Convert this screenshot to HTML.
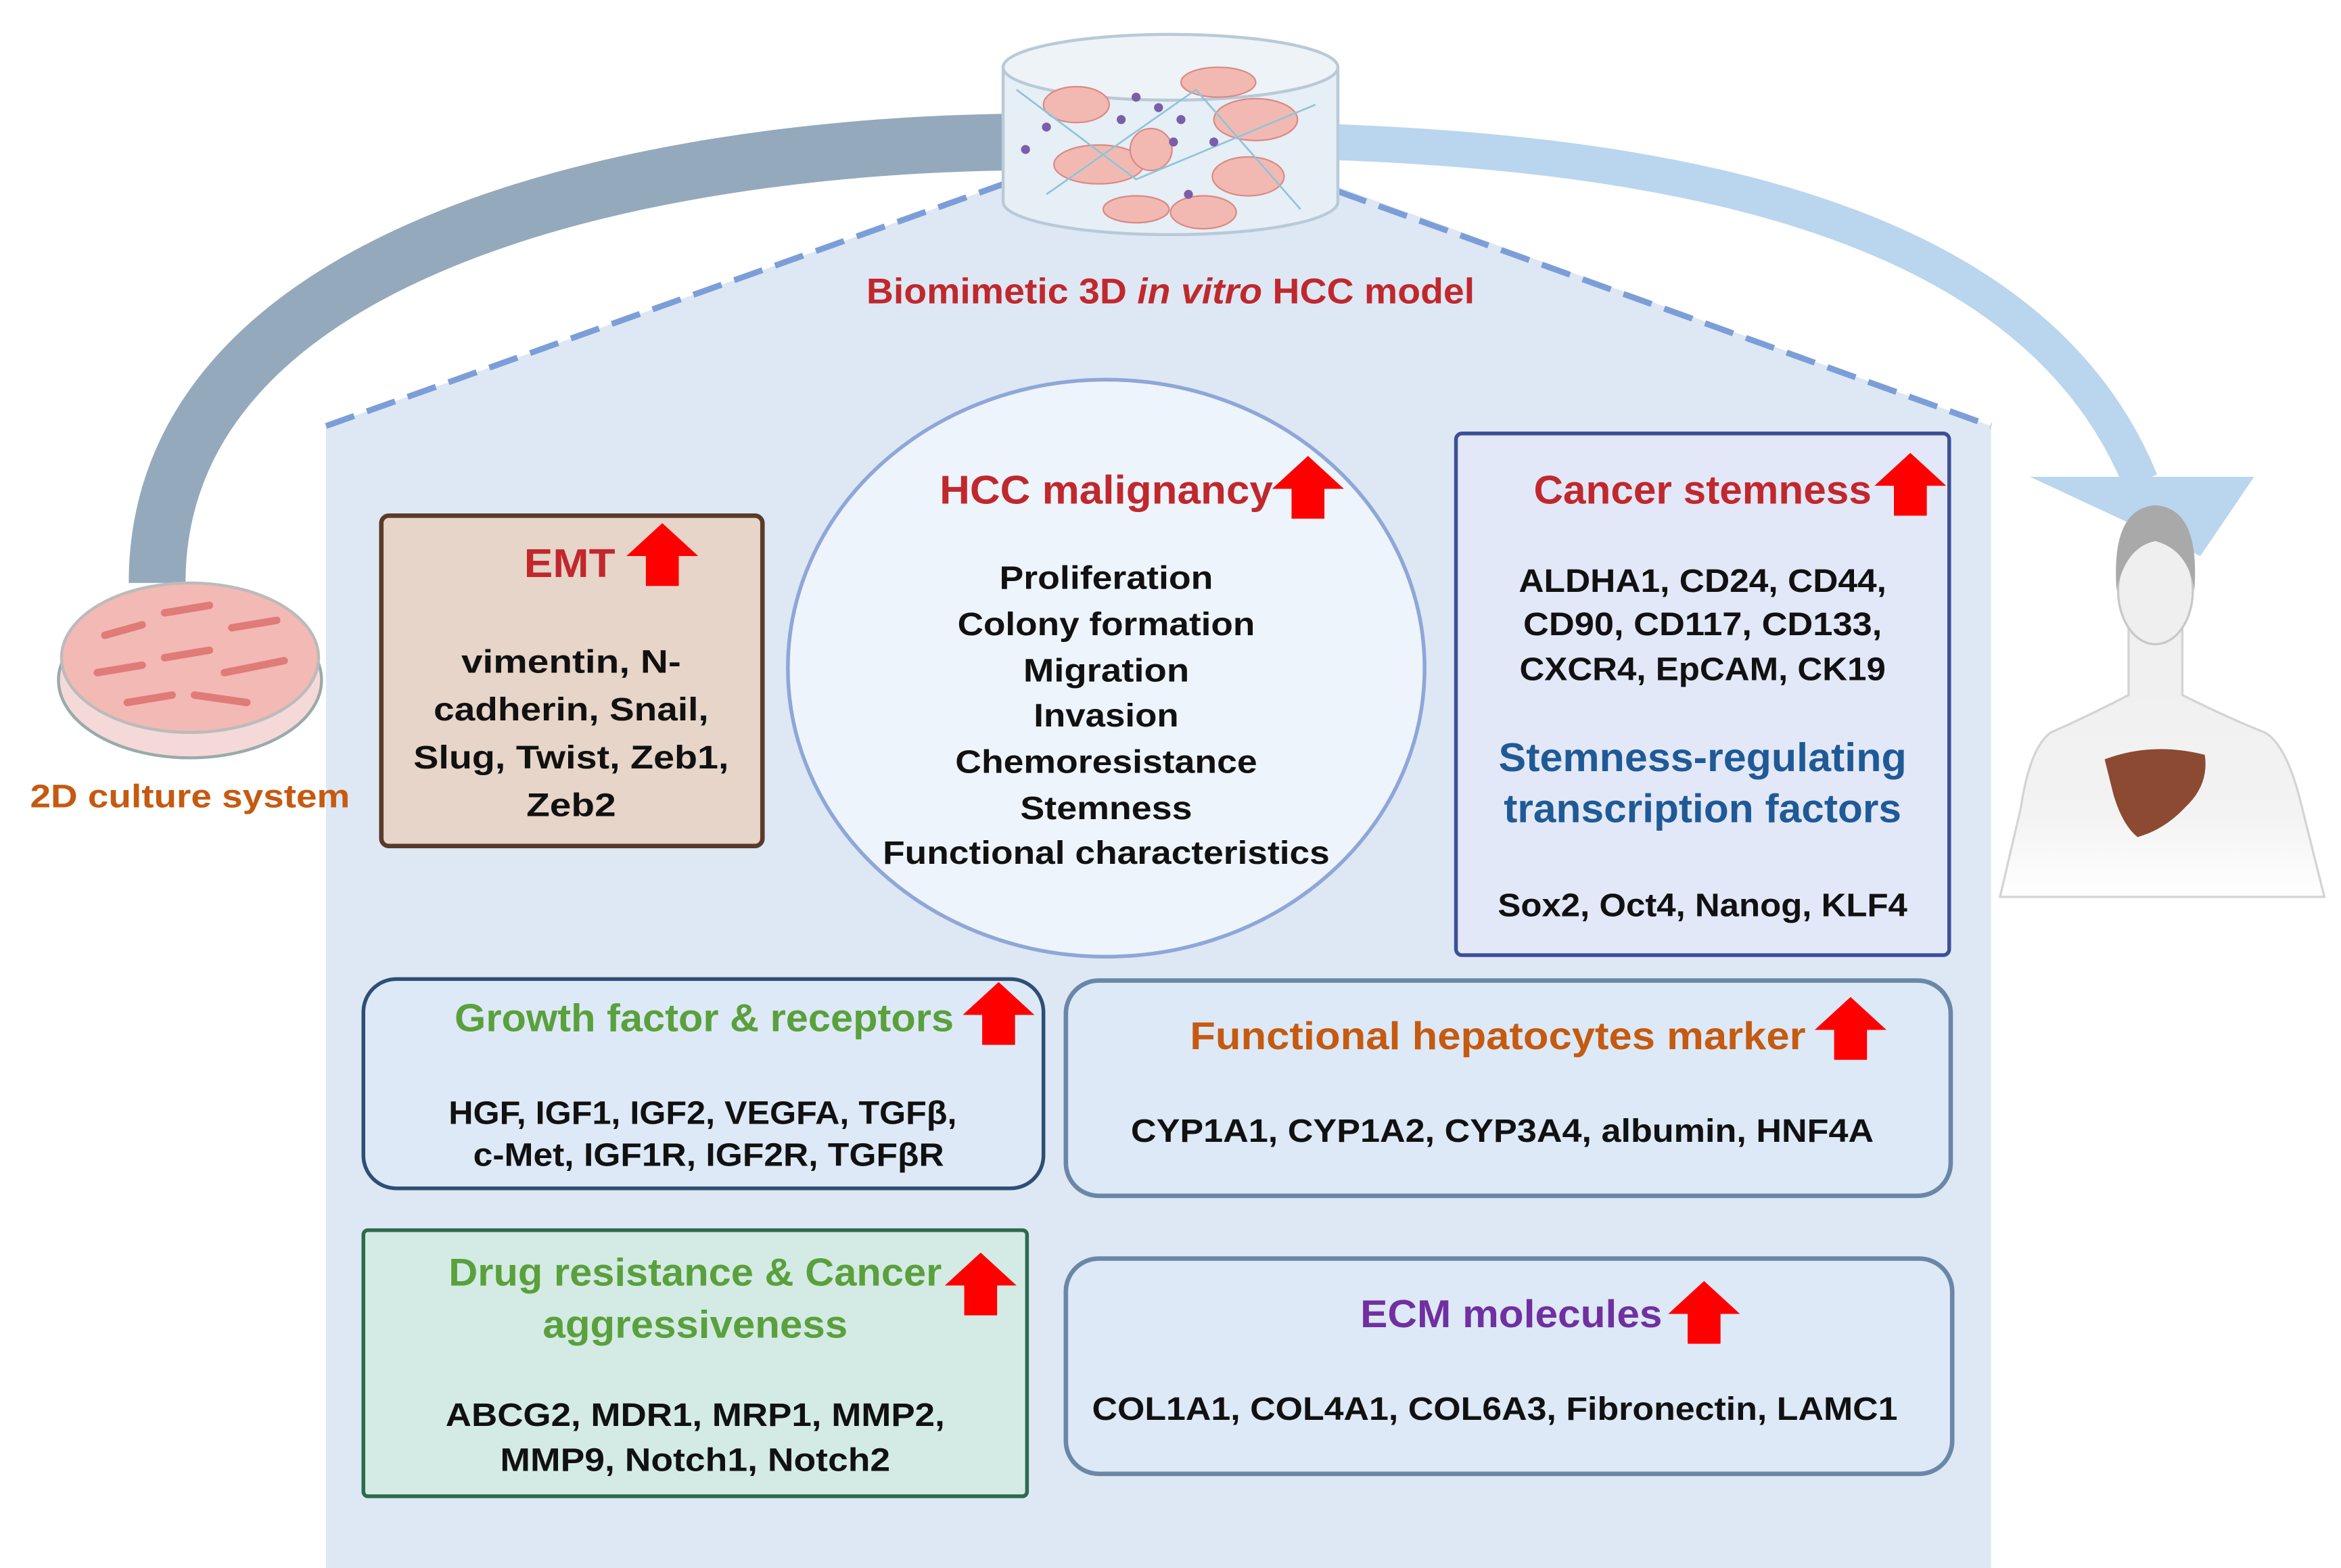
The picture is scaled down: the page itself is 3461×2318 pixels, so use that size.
<!DOCTYPE html>
<html><head><meta charset="utf-8"><style>
html,body{margin:0;padding:0;background:#fff}
svg{display:block}
text{font-family:"Liberation Sans",sans-serif;font-weight:bold;text-anchor:middle}
</style></head><body>
<svg width="3461" height="2318" viewBox="0 0 1566 1049" xmlns="http://www.w3.org/2000/svg">
<defs>
<path id="up" d="M0,0 L24,22 L11,22 L11,42 L-11,42 L-11,22 L-24,22 Z" fill="#f00"/>
<linearGradient id="fade" x1="0" y1="0" x2="0" y2="1"><stop offset="0" stop-color="#efefef"/><stop offset="0.7" stop-color="#f3f3f3"/><stop offset="1" stop-color="#fff"/></linearGradient>
</defs>
<rect width="1566" height="1049" fill="#fff"/>
<!-- arcs -->
<path d="M105,390 C105,170 420,98 680,95" fill="none" stroke="#94a9bc" stroke-width="38"/>
<path d="M890,95 C1180,105 1370,170 1432,322" fill="none" stroke="#bad5ee" stroke-width="24"/>
<polygon points="1358,319 1508,319 1472,372" fill="#bad5ee"/>
<!-- house -->
<polygon points="218,285 680,120 895,125 1332,285 1332,1049 218,1049" fill="#dde8f4"/>
<polyline points="218,285 680,120" fill="none" stroke="#7c9ed8" stroke-width="4" stroke-dasharray="20,9"/>
<polyline points="895,128 1332,285" fill="none" stroke="#7c9ed8" stroke-width="4" stroke-dasharray="20,9"/>
<!-- cylinder -->
<path d="M671,45 L671,135 A112,22 0 0 0 895,135 L895,45" fill="#e6eef6" stroke="#b9c9d8" stroke-width="2"/>
<ellipse cx="783" cy="45" rx="112" ry="22" fill="#eef3f8" stroke="#b9c9d8" stroke-width="2"/>
<g fill="#f2b9b2" stroke="#d98a84" stroke-width="1">
<ellipse cx="720" cy="70" rx="22" ry="12"/><ellipse cx="815" cy="55" rx="25" ry="10"/><ellipse cx="840" cy="80" rx="28" ry="14"/>
<ellipse cx="735" cy="110" rx="30" ry="13"/><ellipse cx="770" cy="100" rx="14" ry="14"/><ellipse cx="805" cy="142" rx="22" ry="11"/>
<ellipse cx="760" cy="140" rx="22" ry="9"/><ellipse cx="835" cy="118" rx="24" ry="13"/></g>
<g stroke="#8fc4d8" stroke-width="1.2" fill="none"><path d="M680,60 L760,120 L880,70"/><path d="M700,130 L800,60 L870,140"/></g>
<g fill="#7a5ea8"><circle cx="760" cy="65" r="3"/><circle cx="775" cy="72" r="3"/><circle cx="750" cy="80" r="3"/><circle cx="790" cy="80" r="3"/><circle cx="785" cy="95" r="3"/><circle cx="700" cy="85" r="3"/><circle cx="686" cy="100" r="3"/><circle cx="795" cy="130" r="3"/><circle cx="812" cy="95" r="3"/></g>
<!-- petri -->
<ellipse cx="127" cy="455" rx="88" ry="52" fill="#f4d9d8" stroke="#9aa" stroke-width="2"/>
<ellipse cx="127" cy="440" rx="86" ry="50" fill="#f3b9b5" stroke="#bbb" stroke-width="2"/>
<g stroke="#e07b78" stroke-width="5" stroke-linecap="round">
<line x1="70" y1="425" x2="95" y2="418"/><line x1="110" y1="410" x2="140" y2="405"/><line x1="155" y1="420" x2="185" y2="415"/>
<line x1="65" y1="450" x2="95" y2="445"/><line x1="110" y1="440" x2="140" y2="435"/><line x1="150" y1="450" x2="190" y2="442"/>
<line x1="85" y1="470" x2="115" y2="465"/><line x1="130" y1="465" x2="165" y2="470"/></g>
<!-- human -->
<g>
<path d="M1424,420 L1424,465 Q1395,480 1372,490 Q1358,500 1352,540 L1338,600 L1555,600 L1540,540 Q1530,498 1515,490 Q1490,480 1460,465 L1460,420 Z" fill="url(#fade)" stroke="#d4d4d4" stroke-width="1.5"/>
<ellipse cx="1442" cy="395" rx="25" ry="36" fill="#efefef" stroke="#c8c8c8" stroke-width="1.5"/>
<path d="M1416,395 Q1412,340 1442,338 Q1472,340 1468,395 Q1464,368 1442,362 Q1422,366 1416,395Z" fill="#a9a9a9"/>
<path d="M1408,508 Q1440,496 1475,505 Q1478,525 1462,540 Q1448,555 1430,560 Q1420,552 1414,532Z" fill="#8c4a32"/>
</g>
<text x="783" y="203" font-size="24" fill="#c0282d" textLength="407" lengthAdjust="spacingAndGlyphs">Biomimetic 3D <tspan font-style="italic">in vitro</tspan> HCC model</text>
<text x="127" y="540" font-size="22" fill="#c55a11" textLength="214" lengthAdjust="spacingAndGlyphs">2D culture system</text>
<!-- EMT -->
<rect x="255" y="345" width="255" height="221" rx="5" fill="#e6d5c8" stroke="#5a3a2a" stroke-width="3"/>
<text x="381" y="386" font-size="27" fill="#c0282d" textLength="61" lengthAdjust="spacingAndGlyphs">EMT</text>
<use href="#up" x="443" y="350"/>
<g font-size="22" fill="#111">
<text x="382" y="450" textLength="147" lengthAdjust="spacingAndGlyphs">vimentin, N-</text>
<text x="382" y="482" textLength="184" lengthAdjust="spacingAndGlyphs">cadherin, Snail,</text>
<text x="382" y="514" textLength="211" lengthAdjust="spacingAndGlyphs">Slug, Twist, Zeb1,</text>
<text x="382" y="546" textLength="60" lengthAdjust="spacingAndGlyphs">Zeb2</text>
</g>
<!-- ellipse -->
<ellipse cx="740" cy="447" rx="213" ry="193" fill="#eef4fb" stroke="#8fa6d8" stroke-width="2.5"/>
<text x="740" y="337" font-size="27" fill="#c0282d" textLength="223" lengthAdjust="spacingAndGlyphs">HCC malignancy</text>
<use href="#up" x="875" y="305"/>
<g font-size="22" fill="#111">
<text x="740" y="394" textLength="143" lengthAdjust="spacingAndGlyphs">Proliferation</text>
<text x="740" y="425" textLength="199" lengthAdjust="spacingAndGlyphs">Colony formation</text>
<text x="740" y="456" textLength="111" lengthAdjust="spacingAndGlyphs">Migration</text>
<text x="740" y="486" textLength="97" lengthAdjust="spacingAndGlyphs">Invasion</text>
<text x="740" y="517" textLength="202" lengthAdjust="spacingAndGlyphs">Chemoresistance</text>
<text x="740" y="548" textLength="115" lengthAdjust="spacingAndGlyphs">Stemness</text>
<text x="740" y="578" textLength="299" lengthAdjust="spacingAndGlyphs">Functional characteristics</text>
</g>
<!-- stemness -->
<rect x="974" y="290" width="330" height="349" rx="4" fill="#e3e8f8" stroke="#3d4f96" stroke-width="2.5"/>
<text x="1139" y="337" font-size="27" fill="#c0282d" textLength="226" lengthAdjust="spacingAndGlyphs">Cancer stemness</text>
<use href="#up" x="1278" y="303"/>
<g font-size="22" fill="#111">
<text x="1139" y="396" textLength="246" lengthAdjust="spacingAndGlyphs">ALDHA1, CD24, CD44,</text>
<text x="1139" y="425" textLength="240" lengthAdjust="spacingAndGlyphs">CD90, CD117, CD133,</text>
<text x="1139" y="455" textLength="245" lengthAdjust="spacingAndGlyphs">CXCR4, EpCAM, CK19</text>
<text x="1139" y="613" textLength="274" lengthAdjust="spacingAndGlyphs">Sox2, Oct4, Nanog, KLF4</text>
</g>
<text x="1139" y="516" font-size="27" fill="#1f5a96" textLength="273" lengthAdjust="spacingAndGlyphs">Stemness-regulating</text>
<text x="1139" y="550" font-size="27" fill="#1f5a96" textLength="266" lengthAdjust="spacingAndGlyphs">transcription factors</text>
<!-- growth -->
<rect x="243" y="655" width="455" height="140" rx="22" fill="#dde9f6" stroke="#2f4e75" stroke-width="2.5"/>
<text x="471" y="690" font-size="26" fill="#5aa03c" textLength="334" lengthAdjust="spacingAndGlyphs">Growth factor &amp; receptors</text>
<use href="#up" x="668" y="657"/>
<g font-size="22" fill="#111">
<text x="470" y="752" textLength="340" lengthAdjust="spacingAndGlyphs">HGF, IGF1, IGF2, VEGFA, TGFβ,</text>
<text x="474" y="780" textLength="315" lengthAdjust="spacingAndGlyphs">c-Met, IGF1R, IGF2R, TGFβR</text>
</g>
<!-- functional -->
<rect x="713" y="656" width="592" height="144" rx="22" fill="#dde9f6" stroke="#6a87a6" stroke-width="3"/>
<text x="1002" y="702" font-size="26" fill="#c55a11" textLength="412" lengthAdjust="spacingAndGlyphs">Functional hepatocytes marker</text>
<use href="#up" x="1238" y="667"/>
<text x="1005" y="764" font-size="22" fill="#111" textLength="497" lengthAdjust="spacingAndGlyphs">CYP1A1, CYP1A2, CYP3A4, albumin, HNF4A</text>
<!-- drug -->
<rect x="243" y="823" width="444" height="178" rx="3" fill="#d3ebe4" stroke="#2e6b4e" stroke-width="2.5"/>
<text x="465" y="860" font-size="26" fill="#5aa03c" textLength="330" lengthAdjust="spacingAndGlyphs">Drug resistance &amp; Cancer</text>
<text x="465" y="895" font-size="26" fill="#5aa03c" textLength="204" lengthAdjust="spacingAndGlyphs">aggressiveness</text>
<use href="#up" x="656" y="838"/>
<g font-size="22" fill="#111">
<text x="465" y="954" textLength="334" lengthAdjust="spacingAndGlyphs">ABCG2, MDR1, MRP1, MMP2,</text>
<text x="465" y="984" textLength="261" lengthAdjust="spacingAndGlyphs">MMP9, Notch1, Notch2</text>
</g>
<!-- ECM -->
<rect x="713" y="842" width="593" height="144" rx="22" fill="#dde9f6" stroke="#6a87a6" stroke-width="3"/>
<text x="1011" y="888" font-size="26" fill="#7030a0" textLength="202" lengthAdjust="spacingAndGlyphs">ECM molecules</text>
<use href="#up" x="1140" y="857"/>
<text x="1000" y="950" font-size="22" fill="#111" textLength="539" lengthAdjust="spacingAndGlyphs">COL1A1, COL4A1, COL6A3, Fibronectin, LAMC1</text>
</svg>
</body></html>
